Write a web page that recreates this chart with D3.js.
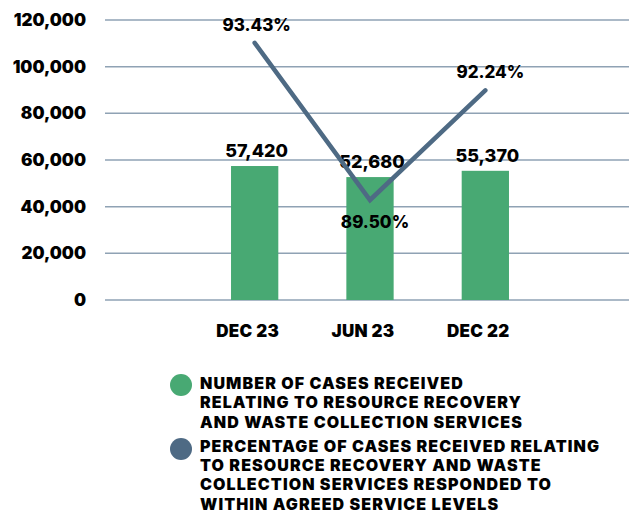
<!DOCTYPE html>
<html>
<head>
<meta charset="utf-8">
<script src="https://cdn.jsdelivr.net/npm/d3@7"></script>
<style>
  body { margin: 0; background: #fff; }
  svg text { font-family: Inter, "Open Sans", sans-serif; font-weight: 800; fill: #000; }
</style>
</head>
<body>
<div id="chart"></div>
<script>
// chart data
const categories = ["DEC 23", "JUN 23", "DEC 22"];
const cases = [57420, 52680, 55370];
const percents = [93.43, 89.50, 92.24];
const yTicks = [0, 20000, 40000, 60000, 80000, 100000, 120000];
const legendBars = ["NUMBER OF CASES RECEIVED", "RELATING TO RESOURCE RECOVERY", "AND WASTE COLLECTION SERVICES"];
const legendLine = ["PERCENTAGE OF CASES RECEIVED RELATING", "TO RESOURCE RECOVERY AND WASTE",
    "COLLECTION SERVICES RESPONDED TO", "WITHIN AGREED SERVICE LEVELS"];

const width = 629, height = 514;
const green = "#48a973", slate = "#4e6a84", grid = "#8fa2b4";

const svg = d3.select("#chart").append("svg")
    .attr("width", width)
    .attr("height", height);

const x = d3.scaleBand().domain(categories).range([197, 543])
    .paddingInner(0.59).paddingOuter(0.295);
const y = d3.scaleLinear().domain([0, 120000]).range([300, 20]);
const y2 = d3.scaleLinear().domain([87, 94]).range([300, 20]);

// gridlines
svg.append("g").selectAll("line")
    .data(yTicks)
    .join("line")
    .attr("x1", 105).attr("x2", width)
    .attr("y1", d => y(d)).attr("y2", d => y(d))
    .style("stroke", grid)
    .style("stroke-width", 1.5);

// y axis labels
svg.append("g").selectAll("text")
    .data(yTicks)
    .join("text")
    .attr("x", 86)
    .attr("y", d => y(d) + 6)
    .attr("text-anchor", "end")
    .style("font-size", "17px")
    .style("font-weight", 900)
    .text(d => d3.format(",")(d));

// bars
svg.append("g").selectAll("rect")
    .data(cases)
    .join("rect")
    .attr("x", (d, i) => x(categories[i]))
    .attr("y", d => y(d))
    .attr("width", x.bandwidth())
    .attr("height", d => y(0) - y(d))
    .style("fill", green);

// category labels
svg.append("g").selectAll("text")
    .data(categories)
    .join("text")
    .attr("x", d => x(d) + x.bandwidth() / 2 - 7)
    .attr("y", 337)
    .attr("text-anchor", "middle")
    .style("font-size", "17px")
    .style("font-weight", 900)
    .style("letter-spacing", "0.3px")
    .text(d => d);

// bar value labels
svg.append("g").selectAll("text")
    .data(cases)
    .join("text")
    .attr("x", (d, i) => x(categories[i]) + x.bandwidth() / 2 + 2)
    .attr("y", d => y(d) - 9)
    .attr("text-anchor", "middle")
    .style("font-size", "18px")
    .text(d => d3.format(",")(d));

// percentage line
const line = d3.line()
    .x((d, i) => x(categories[i]) + x.bandwidth() / 2)
    .y(d => y2(d));

svg.append("path")
    .datum(percents)
    .attr("d", line)
    .style("fill", "none")
    .style("stroke", slate)
    .style("stroke-width", 4.5)
    .style("stroke-linecap", "round")
    .style("stroke-linejoin", "miter");

// percent labels: above except the low point
svg.append("g").selectAll("text")
    .data(percents)
    .join("text")
    .attr("x", (d, i) => x(categories[i]) + x.bandwidth() / 2 + (i === 0 ? 2 : 5))
    .attr("y", (d, i) => i === 1 ? y2(d) + 28 : y2(d) - 12)
    .attr("text-anchor", "middle")
    .style("font-size", "17px")
    .text(d => d.toFixed(2) + "%");

// legend - one text per item, lines as tspans
const legend = svg.append("g");
function legendItem(cy, color, lines, top) {
    legend.append("circle")
        .attr("cx", 181).attr("cy", cy).attr("r", 11)
        .style("fill", color);
    legend.append("text")
        .attr("y", top)
        .style("font-size", "16px")
        .style("font-weight", 900)
        .style("letter-spacing", "1.1px")
        .selectAll("tspan")
        .data(lines)
        .join("tspan")
        .attr("x", 200)
        .attr("dy", (d, i) => i === 0 ? 0 : 19.4)
        .text(d => d);
}
legendItem(385, green, legendBars, 389);
legendItem(449, slate, legendLine, 451.5);
</script>
</body>
</html>
